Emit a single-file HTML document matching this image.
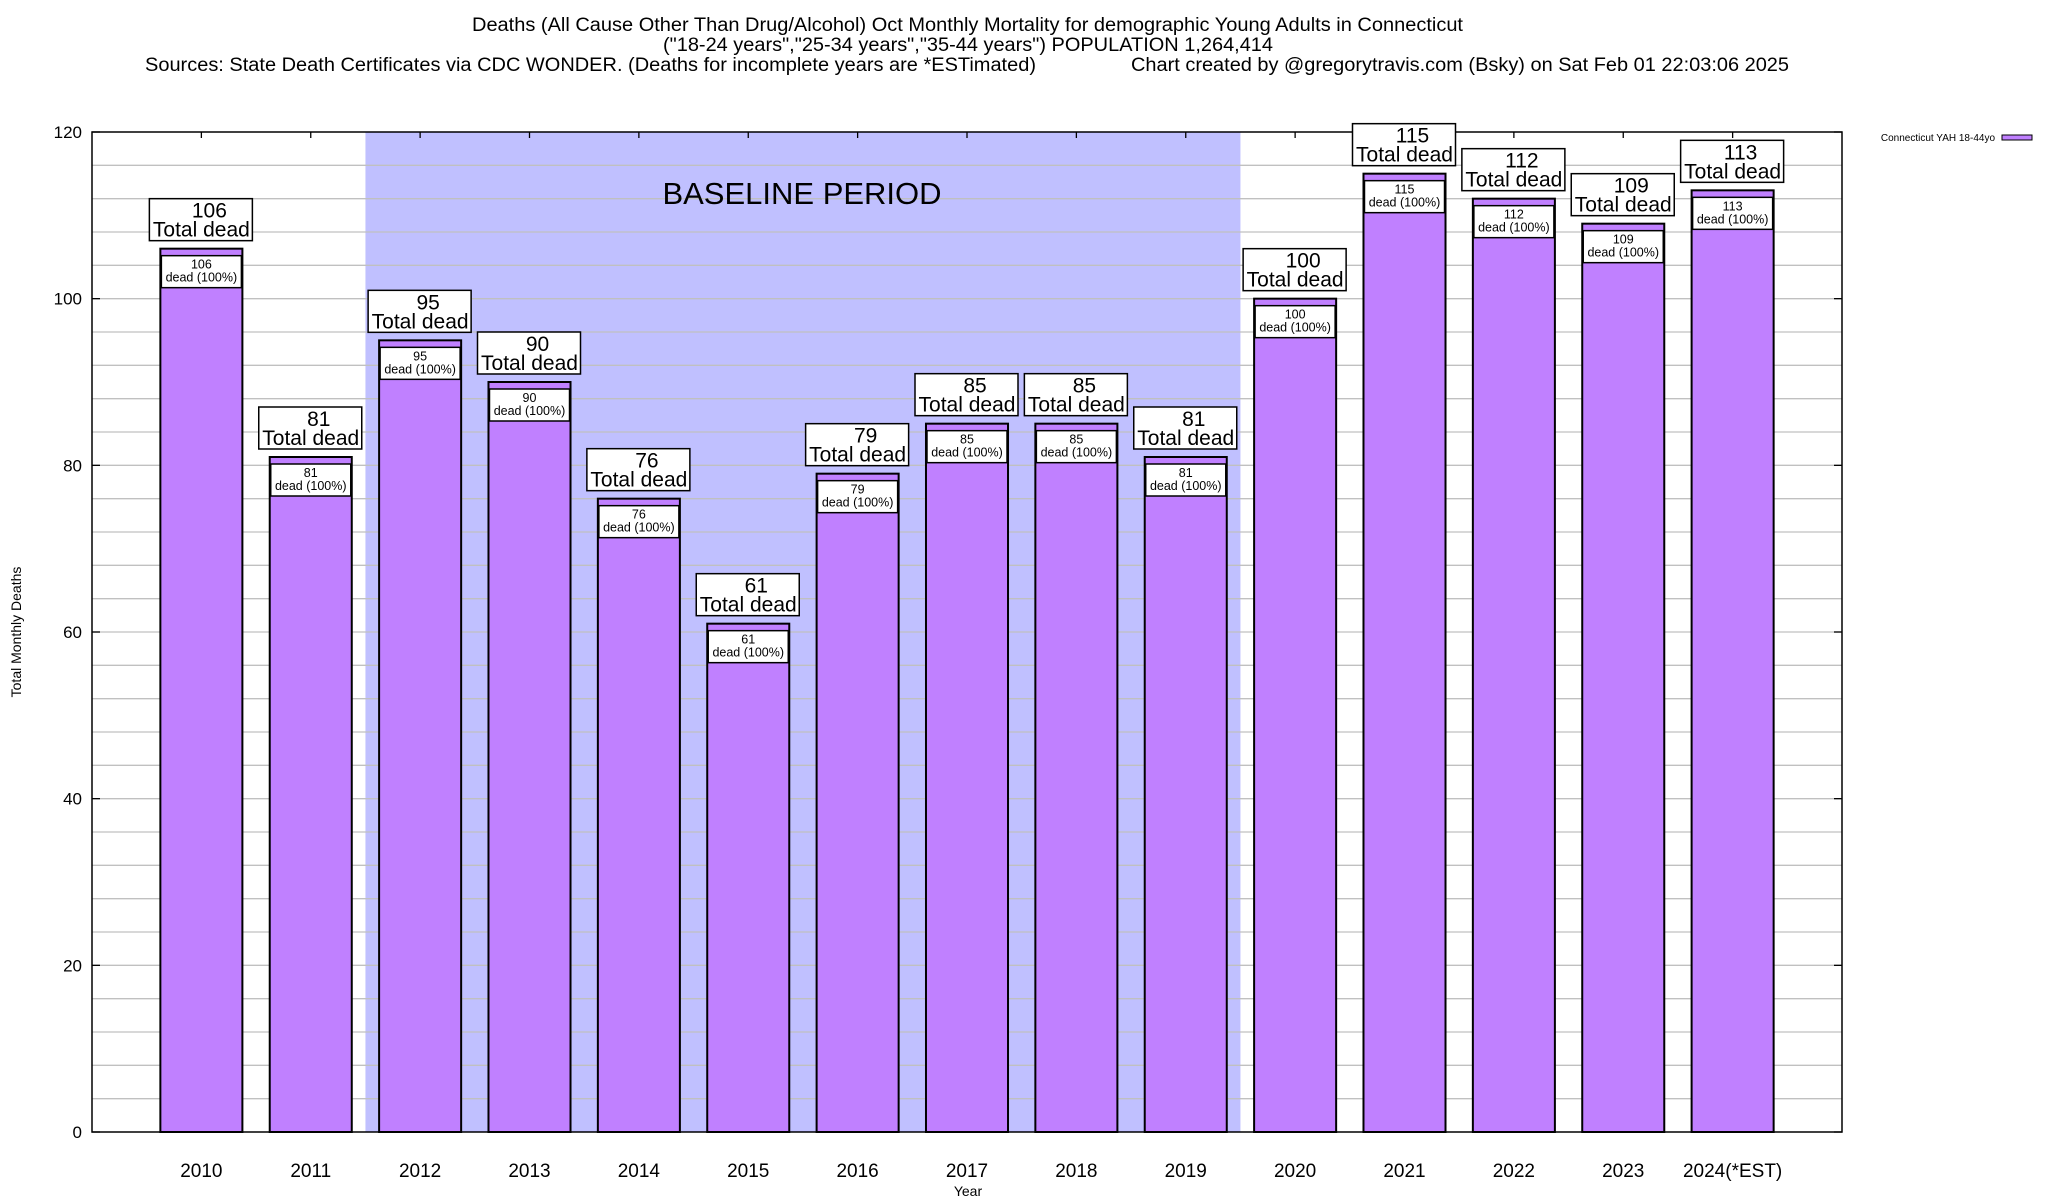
<!DOCTYPE html>
<html><head><meta charset="utf-8">
<style>
html,body{margin:0;padding:0;background:#fff;}
svg{display:block;font-family:"Liberation Sans",Arial,sans-serif;}
</style></head>
<body>
<svg id="chart" width="2048" height="1200" viewBox="0 0 2048 1200" xmlns="http://www.w3.org/2000/svg">
  <g>
    <text x="472" y="31" font-size="19" textLength="991" lengthAdjust="spacingAndGlyphs">Deaths (All Cause Other Than Drug/Alcohol) Oct Monthly Mortality for demographic Young Adults in Connecticut</text>
    <text x="663" y="51" font-size="19" textLength="610" lengthAdjust="spacingAndGlyphs">("18-24 years","25-34 years","35-44 years") POPULATION 1,264,414</text>
    <text x="145" y="71" font-size="19" textLength="891" lengthAdjust="spacingAndGlyphs">Sources: State Death Certificates via CDC WONDER. (Deaths for incomplete years are *ESTimated)</text>
    <text x="1131" y="71" font-size="19" textLength="658" lengthAdjust="spacingAndGlyphs">Chart created by @gregorytravis.com (Bsky) on Sat Feb 01 22:03:06 2025</text>
  </g>
  <g id="plot"></g>
</svg>
<script>
const categories = ["2010","2011","2012","2013","2014","2015","2016","2017","2018","2019","2020","2021","2022","2023","2024(*EST)"];
const deaths = [106,81,95,90,76,61,79,85,85,81,100,115,112,109,113];
const yTicks = [0,20,40,60,80,100,120];
const baselineStart = 2;
const baselineEnd = 9;

const L=92,R=1842,T=132,B=1132,YMAX=120;
const step=(R-L)/(categories.length+1);
const xC=i=>L+step*(i+1);
const y=v=>B-(v/YMAX)*(B-T);
const NS="http://www.w3.org/2000/svg";
const plot=document.getElementById('plot');
function mk(tag,attrs,parent,text){const e=document.createElementNS(NS,tag);for(const k in attrs)e.setAttribute(k,attrs[k]);if(text!==undefined)e.textContent=text;(parent||plot).appendChild(e);return e;}

let sh=mk('rect',{x:xC(baselineStart)-step/2,y:T,width:(baselineEnd-baselineStart+1)*step,height:B-T,fill:'#c0c0ff'});



for(let v=4;v<YMAX;v+=4){
  const g=mk('line',{x1:L,x2:R,y1:y(v),y2:y(v),stroke:'#c0c0c0','stroke-width':1.3});
  
  
}
let bt=mk('text',{x:802,y:204,'font-size':31,'text-anchor':'middle'},plot,'BASELINE PERIOD');



yTicks.forEach(v=>{
  const t=mk('text',{x:82,y:y(v)+6,'font-size':17,'text-anchor':'end'},plot,String(v));
  
  
  mk('line',{x1:L,x2:L+8,y1:y(v),y2:y(v),stroke:'#000','stroke-width':1.3});
  mk('line',{x1:R-8,x2:R,y1:y(v),y2:y(v),stroke:'#000','stroke-width':1.3});
});

const bw=step*0.75;
categories.forEach((c,i)=>{
  const cx=xC(i),v=deaths[i],top=y(v);
  const g=mk('g',{});
  
  
  mk('rect',{x:cx-bw/2,y:top,width:bw,height:B-top,fill:'#c080ff',stroke:'#000','stroke-width':2},g);
  mk('rect',{x:cx-bw/2+1,y:top+7,width:bw-2,height:32,fill:'#fff',stroke:'#000','stroke-width':1.5},g);
  mk('text',{x:cx,y:top+20,'font-size':12.5,'text-anchor':'middle'},g,String(v));
  mk('text',{x:cx,y:top+33,'font-size':12.5,'text-anchor':'middle'},g,'dead (100%)');
  const xt=mk('text',{x:cx,y:1177,'font-size':19,'text-anchor':'middle'},plot,c);
  
  
  mk('line',{x1:cx,x2:cx,y1:T,y2:T+6,stroke:'#000','stroke-width':1.3});
});

let fr=mk('rect',{x:L,y:T,width:R-L,height:B-T,fill:'none',stroke:'#000','stroke-width':1.5});



categories.forEach((c,i)=>{
  const cx=xC(i),v=deaths[i],top=y(v);
  const lb=mk('g',{},plot);
  
  
  mk('rect',{x:cx-52,y:top-50,width:103,height:42,fill:'#fff',stroke:'#000','stroke-width':1.5},lb);
  mk('text',{x:cx+8,y:top-31,'font-size':21,'text-anchor':'middle'},lb,String(v));
  mk('text',{x:cx,y:top-12,'font-size':21,'text-anchor':'middle'},lb,'Total dead');
});

let xa=mk('text',{x:968,y:1196,'font-size':14,'text-anchor':'middle'},plot,'Year');


let ya=mk('text',{x:0,y:0,'font-size':14,'text-anchor':'middle',transform:'translate(21,632) rotate(-90)'},plot,'Total Monthly Deaths');



const lg=mk('g',{},plot);


mk('text',{x:1995,y:141,'font-size':10,'text-anchor':'end'},lg,'Connecticut YAH 18-44yo');
mk('rect',{x:2002,y:135,width:30,height:5,fill:'#c080ff',stroke:'#000','stroke-width':1},lg);
</script>
</body></html>
